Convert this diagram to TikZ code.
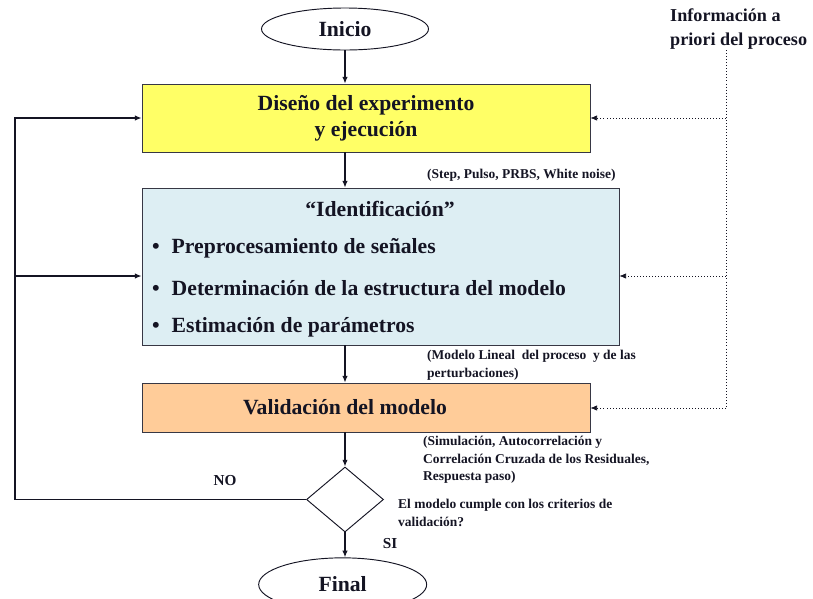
\documentclass[tikz,border=0pt]{standalone}
\usepackage{fontspec}
\setmainfont{Liberation Serif}
\usetikzlibrary{arrows.meta,positioning,shapes.geometric,calc}
\definecolor{ink}{RGB}{20,20,35}
\definecolor{lemon}{RGB}{255,255,102}
\definecolor{frost}{RGB}{221,238,243}
\definecolor{peach}{RGB}{255,204,153}
\tikzset{
  >={Latex[length=2mm,width=1.6mm]},
  proc/.style={draw=ink!85,fill=#1,semithick,align=center,text=ink,
    font=\fontsize{18.5}{22}\selectfont\bfseries},
  proc/.default=lemon,
  term/.style={ellipse,draw=ink,thick,fill=white,text=ink,
    font=\fontsize{18.5}{22}\selectfont\bfseries},
  decision/.style={diamond,draw=ink,thick,fill=white,inner sep=0pt},
  flow/.style={->,line width=1pt,draw=ink},
  hint/.style={->,dotted,semithick,draw=ink},
  note/.style={font=\fontsize{11.5}{15}\selectfont\bfseries,text=ink,align=left,anchor=west,inner sep=0pt},
  tag/.style={font=\fontsize{13}{16}\selectfont\bfseries,text=ink},
}

\begin{document}
\begin{tikzpicture}
    \useasboundingbox (0,0) rectangle (24.39,-17.94);
    \node[term,minimum width=5.01cm,minimum height=1.26cm] (ini) at (10.35,-0.87) {Inicio};
    \node[proc=lemon,minimum width=13.44cm,minimum height=2.04cm] (dis) at (10.98,-3.54) {Diseño del experimento\\y ejecución};
    \node[proc=frost,minimum width=14.31cm,minimum height=4.71cm] (ide) at (11.415,-7.995) {};
    \node[proc=peach,minimum width=13.44cm,minimum height=1.47cm] (val) at (10.98,-12.225) {Validación del modelo\hspace*{1.26cm}};
    \node[decision,minimum width=2.31cm,minimum height=1.95cm] (dec) at (10.35,-14.985) {};
    \node[term,minimum width=5.04cm,minimum height=1.6cm] (fin) at (10.28,-17.535) {Final};
    % contenido de identificacion
    \node[font=\fontsize{18.5}{22}\selectfont\bfseries,text=ink] (idt) at (11.4,-6.27) {“Identificación”};
    \foreach \y/\t [count=\i] in {-7.44/Preprocesamiento de señales,
        -8.64/Determinación de la estructura del modelo,
        -9.81/Estimación de parámetros}
      \node[anchor=west,inner sep=0pt,text=ink,font=\fontsize{18.5}{22}\selectfont\bfseries] (b\i) at (4.56,\y) {\textbullet\hspace{0.55em}\t};
    % flujo principal
    \draw[flow] (ini.south) -- (ini.south |- dis.north);
    \draw[flow] (dis.south -| ini) -- (ide.north -| ini);
    \draw[flow] (ide.south -| ini) -- (val.north -| ini);
    \draw[flow] (val.south -| ini) -- (dec.north);
    \draw[flow] (dec.south) -- (dec.south |- fin.north);
    % realimentacion
    \coordinate (lp) at (0.45,-14.985);
    \coordinate (idfb) at ([yshift=-2.85mm]ide.west);
    \draw[line width=1pt,draw=ink] (dec.west) -- (lp);
    \draw[flow] (lp) |- (dis.west);
    \draw[flow] (lp |- idfb) -- (idfb);
    \node[tag] (no) at (6.75,-14.43) {NO};
    \node[tag] (si) at (11.7,-16.32) {SI};
    % informacion a priori
    \node[font=\fontsize{15.5}{20}\selectfont\bfseries,text=ink,align=left,anchor=west,inner sep=0pt] (inf) at (20.1,-0.87) {Información a\\priori del proceso};
    \coordinate (it) at (21.78,-1.5);
    \coordinate (ib) at (21.78,-12.24);
    \coordinate (idin) at ([yshift=-2.85mm]ide.east);
    \draw[dotted,semithick,draw=ink] (it) -- (ib);
    \draw[hint] (it |- dis.east) -- (dis.east);
    \draw[hint] (it |- idin) -- (idin);
    \draw[hint] (ib) -- (ib -| val.east);
    % notas
    \node[note] (n1) at (12.81,-5.25) {(Step, Pulso, PRBS, White noise)};
    \node[note] (n2) at (12.81,-10.965) {(Modelo Lineal\ \ del proceso\ \ y de las\\perturbaciones)};
    \node[note] (n3) at (12.69,-13.8) {(Simulación, Autocorrelación y\\Correlación Cruzada de los Residuales,\\Respuesta paso)};
    \node[note] (n4) at (11.94,-15.39) {El modelo cumple con los criterios de\\validación?};
\end{tikzpicture}
\end{document}
